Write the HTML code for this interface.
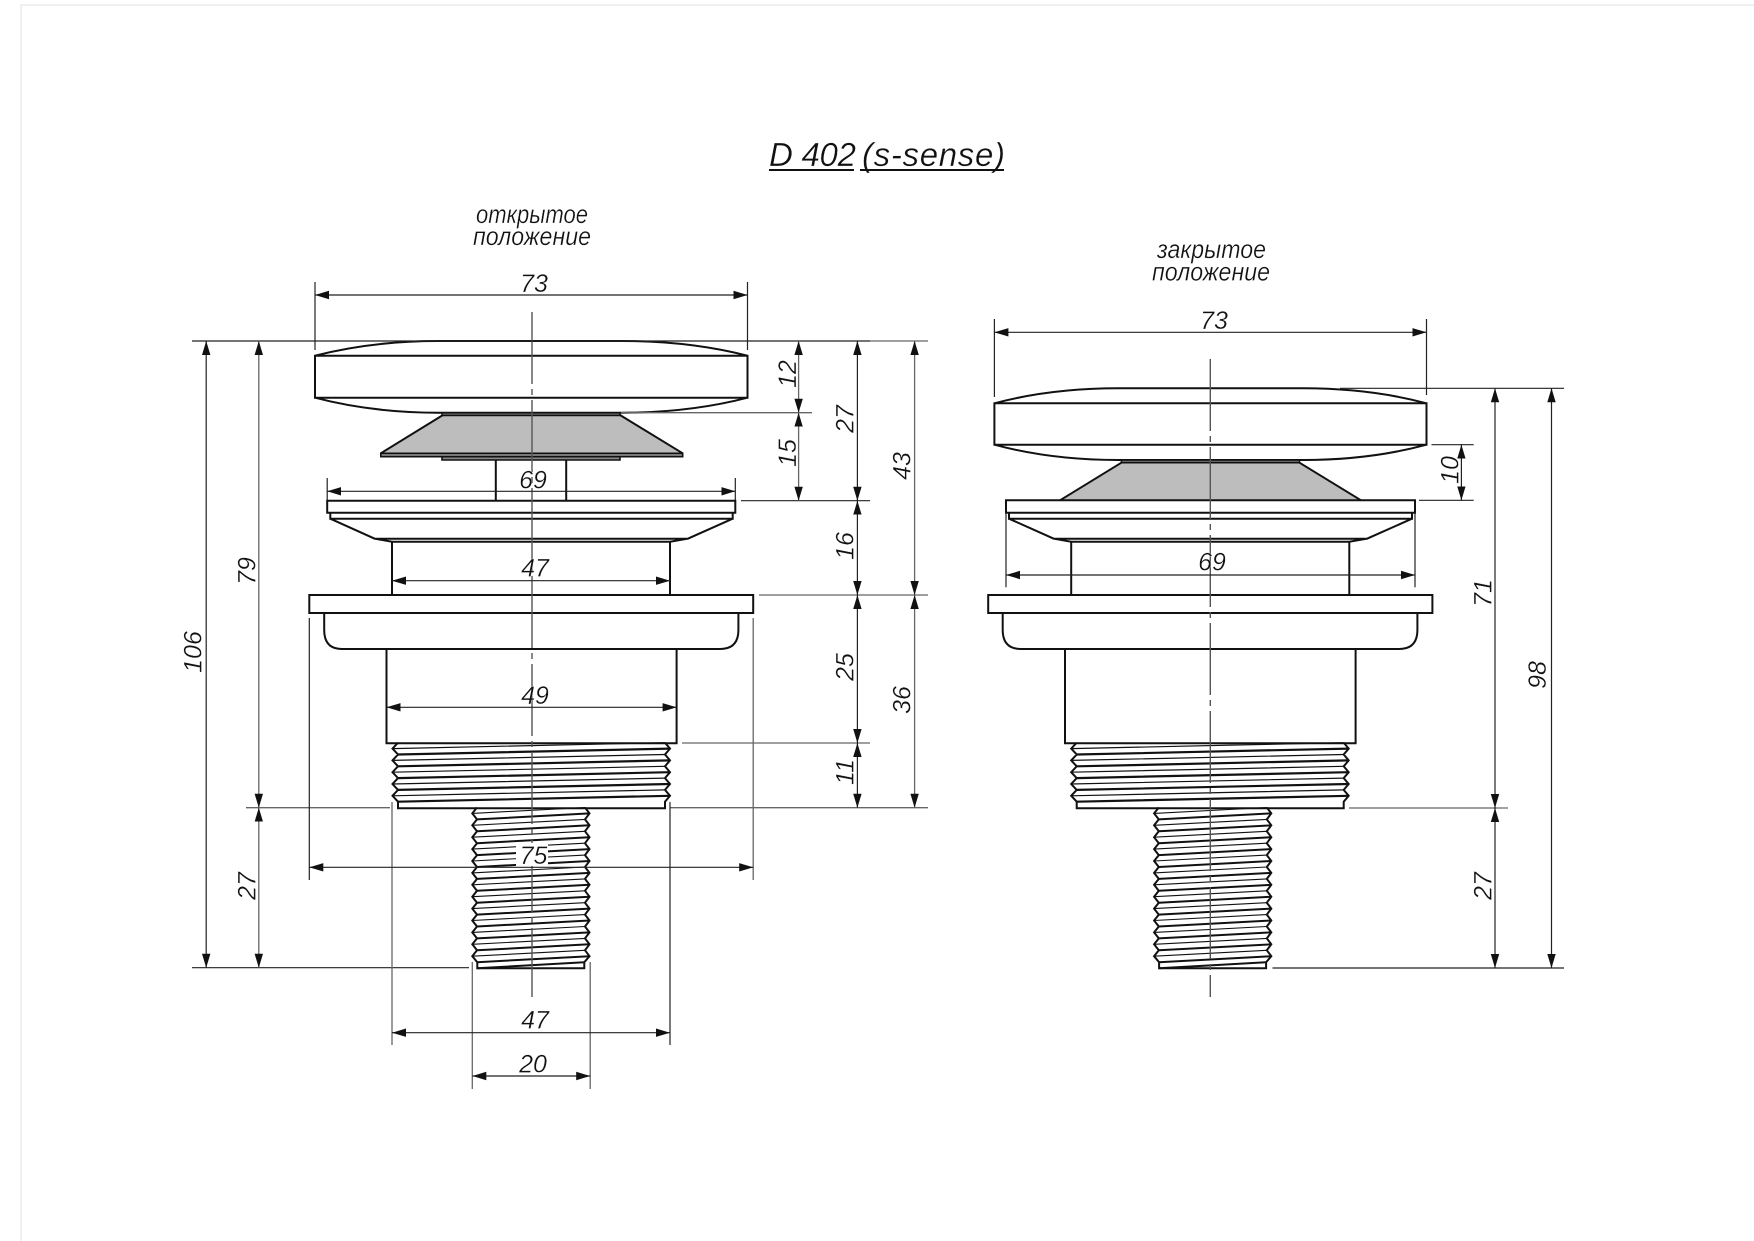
<!DOCTYPE html>
<html><head><meta charset="utf-8"><style>
html,body{margin:0;padding:0;background:#fff}
svg{display:block}
.o{fill:none;stroke:#111;stroke-width:2;stroke-linejoin:miter}
.d{fill:none;stroke:#222;stroke-width:1.2}
.g{fill:none;stroke:#666;stroke-width:1.3}
.a{fill:none;stroke:#222;stroke-width:1.2;marker-start:url(#ar);marker-end:url(#ar)}
.ag{fill:none;stroke:#666;stroke-width:1.3;marker-start:url(#ar);marker-end:url(#ar)}
.c{fill:none;stroke:#555;stroke-width:1.4;stroke-dasharray:72 5 6 5}
text{font-family:"Liberation Sans","DejaVu Sans",sans-serif;font-style:italic;fill:#111;stroke:#fff;stroke-width:.3}
.n{font-size:25px;text-anchor:middle}
.l{font-size:26px}
.t{font-size:33px}
</style></head><body>
<svg xmlns="http://www.w3.org/2000/svg" width="1754" height="1241" viewBox="0 0 1754 1241">
<defs>
<marker id="ar" markerUnits="userSpaceOnUse" markerWidth="14" markerHeight="9" refX="14" refY="4.5" orient="auto-start-reverse"><path d="M0,0.3L14,4.5L0,8.7z" fill="#111"/></marker>
<g id="th1">
<path class="o" d="M398,742.7L392.5,748.6L398,754.5L392.5,760.4L398,766.3L392.5,772.2L398,778.1L392.5,784L398,789.9L392.5,795.8L398,801.7V808.2H665V801.7L670,795.8L665,789.9L670,784L665,778.1L670,772.2L665,766.3L670,760.4L665,754.5L670,748.6L665,742.7"/>
<path fill="none" stroke="#111" stroke-width="2.2" d="M398,754.5L670,748.6M398,766.3L670,760.4M398,778.1L670,772.2M398,789.9L670,784M398,801.7L670,795.8"/>
<path fill="none" stroke="#111" stroke-width="1.2" d="M392.5,748.6L665,742.7M392.5,760.4L665,754.5M392.5,772.2L665,766.3M392.5,784L665,778.1M392.5,795.8L665,789.9"/>
</g>
<g id="th2">
<path class="o" d="M477,807.5L472.3,813.4L477,819.4L472.3,825.3L477,831.3L472.3,837.2L477,843.2L472.3,849.1L477,855.1L472.3,861L477,867L472.3,872.9L477,878.9L472.3,884.8L477,890.8L472.3,896.7L477,902.7L472.3,908.6L477,914.6L472.3,920.5L477,926.5L472.3,932.4L477,938.4L472.3,944.3L477,950.3L472.3,956.2L477.3,962.2V968.3H584.3V962.2L589.5,956.2L585,950.3L589.5,944.3L585,938.4L589.5,932.4L585,926.5L589.5,920.5L585,914.6L589.5,908.6L585,902.7L589.5,896.7L585,890.8L589.5,884.8L585,878.9L589.5,872.9L585,867L589.5,861L585,855.1L589.5,849.1L585,843.2L589.5,837.2L585,831.3L589.5,825.3L585,819.4L589.5,813.4L585,807.5"/>
<path fill="none" stroke="#111" stroke-width="2" d="M477,819.4L589.5,813.4M477,831.3L589.5,825.3M477,843.2L589.5,837.2M477,855.1L589.5,849.1M477,867L589.5,861M477,878.9L589.5,872.9M477,890.8L589.5,884.8M477,902.7L589.5,896.7M477,914.6L589.5,908.6M477,926.5L589.5,920.5M477,938.4L589.5,932.4M477,950.3L589.5,944.3M477,962.2L589.5,956.2M477.3,968.3L584.3,962.2"/>
<path fill="none" stroke="#111" stroke-width="1.1" d="M472.3,813.4L585,807.5M472.3,825.3L585,819.4M472.3,837.2L585,831.3M472.3,849.1L585,843.2M472.3,861L585,855.1M472.3,872.9L585,867M472.3,884.8L585,878.9M472.3,896.7L585,890.8M472.3,908.6L585,902.7M472.3,920.5L585,914.6M472.3,932.4L585,926.5M472.3,944.3L585,938.4M472.3,956.2L585,950.3"/>
</g>
</defs>

<path d="M21,1241V5H1754" fill="none" stroke="#ececec" stroke-width="1.6"/>

<text class="t" x="769" y="166" textLength="87" lengthAdjust="spacing">D 402</text>
<text class="t" x="862" y="166" textLength="143" lengthAdjust="spacing">(s-sense)</text>
<path d="M769,170H854M860,170H1004" stroke="#111" stroke-width="2" fill="none"/>
<text class="l" x="476" y="223" textLength="112" lengthAdjust="spacingAndGlyphs">открытое</text>
<text class="l" x="473" y="245" textLength="118" lengthAdjust="spacingAndGlyphs">положение</text>
<text class="l" x="1157" y="258" textLength="109" lengthAdjust="spacingAndGlyphs">закрытое</text>
<text class="l" x="1152" y="280.7" textLength="118" lengthAdjust="spacingAndGlyphs">положение</text>

<!-- LEFT ASSEMBLY -->
<path d="M443,415H620.5L682.7,453.5H380.8z" fill="#bdbdbd"/>
<path class="o" d="M315,355.7Q372,341 438.6,341H622.4Q690,341 747.5,355.7M315,355.7H747.5V397.7H315zM315,397.7Q372,412.7 438.6,412.7H622.4Q690,412.7 747.5,397.7"/>
<path fill="#666" stroke="#111" stroke-width="1.5" d="M442,412.7H620V415.5H442z"/>
<path fill="#888" stroke="#111" stroke-width="1.6" d="M380.8,453.3H682.7V456.7H380.8zM442,456.7H620V460H442z"/>
<path class="o" d="M443,415L380.8,453.3M620,415L682.7,453.3"/>
<path class="o" d="M495.8,460V500.7M566.2,460V500.7"/>
<path class="o" d="M327.2,500.7H735.3V512.7H327.2zM330.3,512.7V518.7H732.7V512.7M330.3,518.7L374.7,538.7H687.8L732.7,518.7M374.7,538.7L392,541.7H670L687.8,538.7"/>
<path class="o" d="M392,541.7V595M670,541.7V595"/>
<path class="o" d="M309.3,595H753.2V613H309.3zM324.2,613V630Q324.2,649 342,649H720Q738.4,649 738.4,630V613"/>
<path class="o" d="M386.5,649V743.3H676.6V649"/>
<use href="#th1"/>
<use href="#th2"/>
<path class="c" d="M532,312V997"/>

<!-- left extension lines -->
<path class="d" d="M192,341H870M315,282V350M747.5,282V350M192,967.7H469M741,500.7H870"/>
<path class="g" d="M870,341H928M246,807.7H390M670,807.7H928M621,412.7H812M682,743H870M759,595H928"/>
<path class="d" d="M327.2,478V500M735.3,478V500M309.3,618V880M670,802V1045"/>
<path class="g" d="M753.2,618V880M392,802V1045M472.3,962V1089M590.2,962V1089"/>

<!-- left dims -->
<path class="a" d="M206.2,341V967.7"/>
<path class="ag" d="M258.8,341V807.7"/>
<path class="ag" d="M258.8,807.7V967.7"/>
<path class="ag" d="M798.6,341V412.7"/>
<path class="ag" d="M798.6,412.7V500.7"/>
<path class="a" d="M857.4,341V500.7"/>
<path class="a" d="M857.4,500.7V595"/>
<path class="a" d="M857.4,595V743"/>
<path class="a" d="M857.4,743V807.7"/>
<path class="ag" d="M914.6,341V595"/>
<path class="ag" d="M914.6,595V807.7"/>
<path class="a" d="M315,295H747.5"/>
<path class="a" d="M327.2,491.3H735.3"/>
<path class="a" d="M392,580.7H670"/>
<path class="a" d="M386.5,707.3H676.6"/>
<path class="a" d="M309.3,867.3H753.2"/>
<path class="a" d="M392,1032.7H670"/>
<path class="a" d="M472.3,1076H590.2"/>

<text class="n" x="534" y="292">73</text>
<text class="n" x="533" y="488.3">69</text>
<text class="n" x="535" y="576.7">47</text>
<text class="n" x="535" y="704">49</text>
<rect x="516" y="843" width="32" height="23" fill="#fff"/>
<text class="n" x="533.5" y="864">75</text>
<text class="n" x="535" y="1028.3">47</text>
<text class="n" x="533" y="1072.7">20</text>
<text class="n" transform="translate(201.6,652) rotate(-90)">106</text>
<text class="n" transform="translate(255.7,571) rotate(-90)">79</text>
<text class="n" transform="translate(255.7,886) rotate(-90)">27</text>
<text class="n" transform="translate(796,374) rotate(-90)">12</text>
<text class="n" transform="translate(796,453) rotate(-90)">15</text>
<text class="n" transform="translate(853.5,419) rotate(-90)">27</text>
<text class="n" transform="translate(853.5,546) rotate(-90)">16</text>
<text class="n" transform="translate(853.5,667) rotate(-90)">25</text>
<text class="n" transform="translate(853.5,772) rotate(-90)">11</text>
<text class="n" transform="translate(910.5,466) rotate(-90)">43</text>
<text class="n" transform="translate(910.5,700) rotate(-90)">36</text>

<!-- RIGHT ASSEMBLY -->
<path d="M1121.4,462.7H1299.5L1361,500.3H1060z" fill="#bdbdbd"/>
<path class="o" d="M994.4,403.3Q1051,388.3 1118,388.3H1303Q1370,388.3 1426.5,403.3M994.4,403.3H1426.5V444.7H994.4zM994.4,444.7Q1051,460 1118,460H1303Q1370,460 1426.5,444.7"/>
<path fill="#666" stroke="#111" stroke-width="1.5" d="M1121.4,460H1299.5V462.7H1121.4z"/>
<path class="o" d="M1121.4,462.7L1060,500.3M1299.5,462.7L1361,500.3"/>
<path class="o" d="M1006,500.3H1415V512.7H1006zM1009,512.7V518.7H1412V512.7M1009,518.7L1053.8,538.7H1367L1412,518.7M1053.8,538.7L1071.2,541.7H1349.3L1367,538.7"/>
<path class="o" d="M1071.2,541.7V595M1349.3,541.7V595"/>
<path class="o" d="M988.2,595H1432.4V613H988.2zM1002.7,613V630Q1002.7,649 1021,649H1399Q1417.4,649 1417.4,630V613"/>
<path class="o" d="M1065,649V743.3H1355.6V649"/>
<use href="#th1" transform="translate(678.7,0)"/>
<use href="#th2" transform="translate(681.8,0)"/>
<path class="c" d="M1210.3,359V997"/>

<path class="d" d="M994.4,319V397M1426.5,319V395M1340,388.3H1564M1272.5,968H1564M1431.5,444.7H1473.7M1419,500.3H1473.7M1006,512V587.3M1415,512V587.3"/>
<path class="g" d="M1349,808H1508"/>
<path class="a" d="M994.4,332.3H1426.5"/>
<path class="a" d="M1006,575H1415"/>
<path class="a" d="M1461.4,444.7V500.3"/>
<path class="a" d="M1495,388.3V808"/>
<path class="a" d="M1495,808V968"/>
<path class="a" d="M1551.5,388.3V968"/>
<text class="n" x="1214" y="329">73</text>
<text class="n" x="1212" y="570.7">69</text>
<text class="n" transform="translate(1458.5,470) rotate(-90)">10</text>
<text class="n" transform="translate(1491.7,593) rotate(-90)">71</text>
<text class="n" transform="translate(1546,675) rotate(-90)">98</text>
<text class="n" transform="translate(1491.7,886) rotate(-90)">27</text>
</svg>
</body></html>
